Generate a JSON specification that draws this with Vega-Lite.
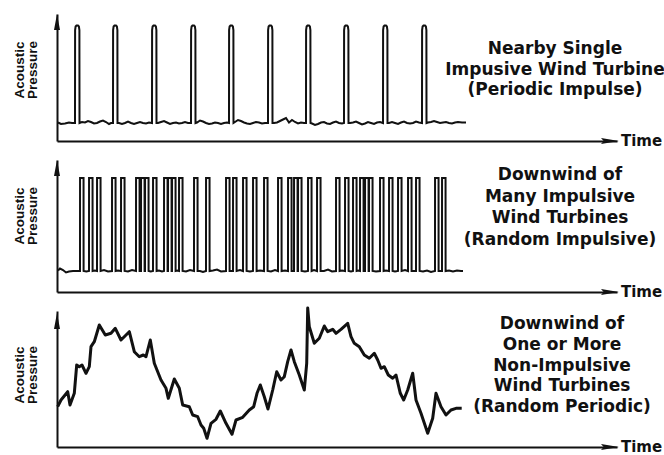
{
  "$schema": "https://vega.github.io/schema/vega-lite/v6.json",
  "background": "white",
  "padding": {"left": 12, "top": 14, "right": 0, "bottom": 0},
  "bounds": "flush",
  "spacing": 19,
  "config": {
    "view": {"stroke": null},
    "font": "DejaVu Sans",
    "axis": {"domainColor": "#111", "domainWidth": 2, "ticks": false, "labels": false, "grid": false, "title": null}
  },
  "datasets": {
    "labels": [
      {"panel": 1, "label": "Nearby Single\nImpusive Wind Turbine\n(Periodic Impulse)"},
      {"panel": 2, "label": "Downwind of\nMany Impulsive\nWind Turbines\n(Random Impulsive)"},
      {"panel": 3, "label": "Downwind of\nOne or More\nNon-Impulsive\nWind Turbines\n(Random Periodic)"}
    ],
    "p1": [
      {"t":1,"v":18.5},{"t":4,"v":17},{"t":8,"v":17.5},{"t":12,"v":18.5},{"t":15,"v":18},
      {"t":18,"v":18},{"t":18.1,"v":111},{"t":18.6,"v":114.5},{"t":19.5,"v":115.5},{"t":21,"v":115.5},{"t":21.9,"v":114.5},{"t":22.4,"v":111},{"t":22.5,"v":18},
      {"t":25,"v":19},{"t":28,"v":18.5},{"t":31,"v":20},{"t":34,"v":19},{"t":37,"v":17.5},{"t":40,"v":18},{"t":43,"v":19.5},{"t":46,"v":20.5},{"t":49,"v":19},{"t":52,"v":17},{"t":54,"v":18},
      {"t":56,"v":18},{"t":56.1,"v":111},{"t":56.6,"v":114.5},{"t":57.5,"v":115.5},{"t":59,"v":115.5},{"t":59.9,"v":114.5},{"t":60.4,"v":111},{"t":60.5,"v":18},
      {"t":62,"v":18},{"t":65,"v":17},{"t":68,"v":18},{"t":71,"v":19.5},{"t":74,"v":18},{"t":77,"v":17},{"t":80,"v":18},{"t":83,"v":19},{"t":86,"v":18},{"t":89,"v":17.5},{"t":92,"v":18.5},
      {"t":95,"v":18},{"t":95.1,"v":111},{"t":95.6,"v":114.5},{"t":96.5,"v":115.5},{"t":98,"v":115.5},{"t":98.9,"v":114.5},{"t":99.4,"v":111},{"t":99.5,"v":18},
      {"t":101,"v":18},{"t":104,"v":19},{"t":107,"v":20},{"t":110,"v":18.5},{"t":113,"v":17},{"t":116,"v":18},{"t":119,"v":18.5},{"t":122,"v":17.5},{"t":125,"v":18},{"t":128,"v":19},{"t":131,"v":18},
      {"t":134,"v":18},{"t":134.1,"v":111},{"t":134.6,"v":114.5},{"t":135.5,"v":115.5},{"t":137,"v":115.5},{"t":137.9,"v":114.5},{"t":138.4,"v":111},{"t":138.5,"v":18},
      {"t":140,"v":18.5},{"t":143,"v":20.5},{"t":146,"v":19.5},{"t":149,"v":18},{"t":152,"v":17},{"t":155,"v":17.5},{"t":158,"v":18.5},{"t":161,"v":18},{"t":164,"v":17},{"t":167,"v":18},{"t":170,"v":18.5},
      {"t":172,"v":18},{"t":172.1,"v":111},{"t":172.6,"v":114.5},{"t":173.5,"v":115.5},{"t":175,"v":115.5},{"t":175.9,"v":114.5},{"t":176.4,"v":111},{"t":176.5,"v":18},
      {"t":178,"v":19},{"t":181,"v":21},{"t":184,"v":20},{"t":187,"v":18.5},{"t":190,"v":17.5},{"t":193,"v":17},{"t":196,"v":18},{"t":199,"v":19},{"t":202,"v":18.5},{"t":205,"v":17.5},{"t":208,"v":18},
      {"t":211,"v":18},{"t":211.1,"v":111},{"t":211.6,"v":114.5},{"t":212.5,"v":115.5},{"t":214,"v":115.5},{"t":214.9,"v":114.5},{"t":215.4,"v":111},{"t":215.5,"v":18},
      {"t":217,"v":18},{"t":220,"v":18.5},{"t":223,"v":20},{"t":226,"v":21.5},{"t":229,"v":23},{"t":232,"v":18.5},{"t":235,"v":21},{"t":238,"v":19},{"t":241,"v":17.5},{"t":244,"v":18.5},{"t":247,"v":18},
      {"t":249,"v":18},{"t":249.1,"v":111},{"t":249.6,"v":114.5},{"t":250.5,"v":115.5},{"t":252,"v":115.5},{"t":252.9,"v":114.5},{"t":253.4,"v":111},{"t":253.5,"v":18},
      {"t":255,"v":17.5},{"t":258,"v":16},{"t":261,"v":17},{"t":264,"v":18.5},{"t":267,"v":19},{"t":270,"v":17.5},{"t":273,"v":17},{"t":276,"v":18.5},{"t":279,"v":19.5},{"t":282,"v":18},{"t":285,"v":17.5},
      {"t":287,"v":18},{"t":287.1,"v":111},{"t":287.6,"v":114.5},{"t":288.5,"v":115.5},{"t":290,"v":115.5},{"t":290.9,"v":114.5},{"t":291.4,"v":111},{"t":291.5,"v":18},
      {"t":293,"v":18},{"t":296,"v":18.5},{"t":299,"v":19.5},{"t":302,"v":18},{"t":305,"v":16.5},{"t":308,"v":17.5},{"t":311,"v":19},{"t":314,"v":18},{"t":317,"v":17},{"t":320,"v":18.5},{"t":323,"v":19},
      {"t":326,"v":18},{"t":326.1,"v":111},{"t":326.6,"v":114.5},{"t":327.5,"v":115.5},{"t":329,"v":115.5},{"t":329.9,"v":114.5},{"t":330.4,"v":111},{"t":330.5,"v":18},
      {"t":332,"v":18},{"t":335,"v":19},{"t":338,"v":18},{"t":341,"v":17},{"t":344,"v":18.5},{"t":347,"v":19.5},{"t":350,"v":18},{"t":353,"v":17.5},{"t":356,"v":18},{"t":359,"v":19.5},{"t":362,"v":18.5},
      {"t":365,"v":18},{"t":365.1,"v":111},{"t":365.6,"v":114.5},{"t":366.5,"v":115.5},{"t":368,"v":115.5},{"t":368.9,"v":114.5},{"t":369.4,"v":111},{"t":369.5,"v":18},
      {"t":371,"v":18.5},{"t":374,"v":19},{"t":377,"v":20},{"t":380,"v":19},{"t":383,"v":18},{"t":386,"v":18.5},{"t":389,"v":19},{"t":392,"v":18},{"t":395,"v":17.5},{"t":398,"v":18.5},{"t":401,"v":19},{"t":405,"v":18.5},{"t":409,"v":18.5}
    ],
    "p2": [
      {"t":1,"v":21.5},{"t":3,"v":23.5},{"t":6,"v":22},{"t":9,"v":19.5},{"t":12,"v":20.5},{"t":16,"v":21},{"t":20,"v":21},
      {"t":23,"v":21},{"t":23.05,"v":114},{"t":26.55,"v":114},{"t":26.6,"v":21},{"t":29.3,"v":20.5},
      {"t":32,"v":21},{"t":32.05,"v":114},{"t":35.55,"v":114},{"t":35.6,"v":21},{"t":37.8,"v":21.5},
      {"t":40,"v":21},{"t":40.05,"v":114},{"t":43.55,"v":114},{"t":43.6,"v":21},{"t":47,"v":22},{"t":51,"v":20.5},
      {"t":55,"v":21},{"t":55.05,"v":114},{"t":58.55,"v":114},{"t":58.6,"v":21},{"t":61,"v":21.5},
      {"t":64,"v":21},{"t":64.05,"v":114},{"t":67.55,"v":114},{"t":67.6,"v":21},{"t":71,"v":20.5},{"t":75,"v":22},
      {"t":79,"v":21},{"t":79.05,"v":114},{"t":82.55,"v":114},{"t":82.6,"v":21},
      {"t":84,"v":21},{"t":84.05,"v":114},{"t":87.55,"v":114},{"t":87.6,"v":21},
      {"t":88,"v":21},{"t":88.05,"v":114},{"t":91.55,"v":114},{"t":91.6,"v":21},{"t":93.8,"v":20.5},
      {"t":96,"v":21},{"t":96.05,"v":114},{"t":99.55,"v":114},{"t":99.6,"v":21},{"t":102,"v":21.5},{"t":105,"v":20.5},
      {"t":107,"v":21},{"t":107.05,"v":114},{"t":110.55,"v":114},{"t":110.6,"v":21},
      {"t":111,"v":21},{"t":111.05,"v":114},{"t":114.55,"v":114},{"t":114.6,"v":21},
      {"t":115,"v":21},{"t":115.05,"v":114},{"t":118.55,"v":114},{"t":118.6,"v":21},{"t":120.3,"v":21.5},
      {"t":122,"v":21},{"t":122.05,"v":114},{"t":125.55,"v":114},{"t":125.6,"v":21},{"t":129,"v":20.5},{"t":133,"v":22},
      {"t":137,"v":21},{"t":137.05,"v":114},{"t":140.55,"v":114},{"t":140.6,"v":21},{"t":143,"v":21},{"t":146,"v":20},
      {"t":149,"v":21},{"t":149.05,"v":114},{"t":152.55,"v":114},{"t":152.6,"v":21},{"t":156,"v":21.5},{"t":160,"v":22.5},{"t":164,"v":20.5},
      {"t":169,"v":21},{"t":169.05,"v":114},{"t":172.55,"v":114},{"t":172.6,"v":21},{"t":174.3,"v":21},
      {"t":176,"v":21},{"t":176.05,"v":114},{"t":179.55,"v":114},{"t":179.6,"v":21},{"t":183,"v":22},
      {"t":186,"v":21},{"t":186.05,"v":114},{"t":189.55,"v":114},{"t":189.6,"v":21},{"t":193,"v":20.5},
      {"t":196,"v":21},{"t":196.05,"v":114},{"t":199.55,"v":114},{"t":199.6,"v":21},{"t":203,"v":21.5},
      {"t":207,"v":21},{"t":207.05,"v":114},{"t":210.55,"v":114},{"t":210.6,"v":21},{"t":214,"v":20.5},{"t":218,"v":22},
      {"t":221,"v":21},{"t":221.05,"v":114},{"t":224.55,"v":114},{"t":224.6,"v":21},{"t":228,"v":21.5},
      {"t":231,"v":21},{"t":231.05,"v":114},{"t":234.55,"v":114},{"t":234.6,"v":21},
      {"t":237,"v":21},{"t":237.05,"v":114},{"t":240.55,"v":114},{"t":240.6,"v":21},
      {"t":241,"v":21},{"t":241.05,"v":114},{"t":244.55,"v":114},{"t":244.6,"v":21},{"t":248,"v":20.5},
      {"t":251,"v":21},{"t":251.05,"v":114},{"t":254.55,"v":114},{"t":254.6,"v":21},{"t":257,"v":22},
      {"t":260,"v":21},{"t":260.05,"v":114},{"t":263.55,"v":114},{"t":263.6,"v":21},{"t":267,"v":21},{"t":271,"v":22.5},{"t":275,"v":20.5},
      {"t":279,"v":21},{"t":279.05,"v":114},{"t":282.55,"v":114},{"t":282.6,"v":21},{"t":285,"v":21.5},
      {"t":288,"v":21},{"t":288.05,"v":114},{"t":291.55,"v":114},{"t":291.6,"v":21},{"t":294,"v":20.5},
      {"t":296,"v":21},{"t":296.05,"v":114},{"t":299.55,"v":114},{"t":299.6,"v":21},{"t":301.3,"v":21.5},
      {"t":303,"v":21},{"t":303.05,"v":114},{"t":306.55,"v":114},{"t":306.6,"v":21},
      {"t":308,"v":21},{"t":308.05,"v":114},{"t":311.55,"v":114},{"t":311.6,"v":21},
      {"t":312,"v":21},{"t":312.05,"v":114},{"t":315.55,"v":114},{"t":315.6,"v":21},{"t":319,"v":20.5},
      {"t":323,"v":21},{"t":323.05,"v":114},{"t":326.55,"v":114},{"t":326.6,"v":21},{"t":329,"v":21.5},
      {"t":332,"v":21},{"t":332.05,"v":114},{"t":335.55,"v":114},{"t":335.6,"v":21},{"t":338,"v":20.5},
      {"t":341,"v":21},{"t":341.05,"v":114},{"t":344.55,"v":114},{"t":344.6,"v":21},{"t":348,"v":22},
      {"t":351,"v":21},{"t":351.05,"v":114},{"t":354.55,"v":114},{"t":354.6,"v":21},{"t":357,"v":21},
      {"t":359,"v":21},{"t":359.05,"v":114},{"t":362.55,"v":114},{"t":362.6,"v":21},{"t":366,"v":20.5},{"t":370,"v":21.5},{"t":374,"v":20},
      {"t":378,"v":21},{"t":378.05,"v":114},{"t":381.55,"v":114},{"t":381.6,"v":21},{"t":383.3,"v":21},
      {"t":385,"v":21},{"t":385.05,"v":114},{"t":388.55,"v":114},{"t":388.6,"v":21},
      {"t":392,"v":21.5},{"t":396,"v":20.5},{"t":400,"v":21.5},{"t":404,"v":21},{"t":406,"v":21}
    ],
    "p3": [
      {"t":0.7,"v":40.3},{"t":4,"v":47},{"t":10.7,"v":55.3},{"t":13,"v":42},{"t":17.3,"v":53.7},{"t":19.7,"v":82},{"t":22.3,"v":80.3},{"t":25,"v":82},{"t":29,"v":73.7},{"t":32.3,"v":80.3},
      {"t":34,"v":100.3},{"t":37.3,"v":105.3},{"t":42.3,"v":122},{"t":48.3,"v":112},{"t":54,"v":113.7},{"t":58.3,"v":118.7},{"t":64,"v":107},{"t":72.3,"v":115.3},{"t":77.3,"v":95.3},{"t":82.3,"v":90.3},
      {"t":86.3,"v":92},{"t":89,"v":90.3},{"t":93.3,"v":107},{"t":97.3,"v":83.7},{"t":104,"v":67},{"t":109,"v":58.7},{"t":111.3,"v":48.7},{"t":117.3,"v":68},{"t":122.3,"v":58.7},{"t":125.7,"v":42},
      {"t":132.3,"v":40.3},{"t":135.7,"v":32},{"t":140.7,"v":30.3},{"t":144,"v":22},{"t":146.7,"v":18.7},{"t":150,"v":8.7},{"t":154,"v":23.7},{"t":159,"v":27.7},{"t":163.3,"v":36},{"t":169,"v":23.7},
      {"t":175,"v":12.7},{"t":179,"v":27},{"t":185.7,"v":29.7},{"t":192.3,"v":37},{"t":196.7,"v":40.3},{"t":200,"v":53.7},{"t":203.3,"v":62},{"t":207.3,"v":50.3},{"t":211,"v":38},{"t":215.7,"v":57},
      {"t":219.7,"v":75.3},{"t":224,"v":67},{"t":227.3,"v":70.3},{"t":230.7,"v":85.3},{"t":234,"v":97},{"t":237.3,"v":85.3},{"t":242.3,"v":72},{"t":247.3,"v":57},{"t":249.7,"v":83.7},{"t":250.7,"v":139},
      {"t":252.3,"v":120.3},{"t":257.3,"v":103.7},{"t":262.3,"v":108.7},{"t":267.3,"v":121},{"t":270.7,"v":115.3},{"t":275.7,"v":117.7},{"t":279,"v":113.7},{"t":284,"v":117.7},{"t":290.7,"v":123.7},{"t":294,"v":110.3},
      {"t":297.3,"v":103.7},{"t":302.3,"v":100.3},{"t":307.3,"v":92},{"t":312.3,"v":88.7},{"t":317.3,"v":93.7},{"t":320.7,"v":87},{"t":324,"v":78.7},{"t":327.3,"v":80.3},{"t":331.3,"v":72},{"t":335.7,"v":68.7},
      {"t":339,"v":72},{"t":343.3,"v":53.7},{"t":346.7,"v":47},{"t":350.7,"v":57},{"t":355.7,"v":73.7},{"t":359,"v":47},{"t":364,"v":33.7},{"t":370.7,"v":13.7},{"t":375.7,"v":28.7},{"t":379,"v":53.7},
      {"t":384,"v":40.3},{"t":389,"v":32},{"t":394,"v":37},{"t":399,"v":38.7},{"t":404.7,"v":38.7}
    ]
  },
  "vconcat": [
    {
      "width": 560, "height": 127,
      "layer": [
        {"data": {"name": "p1"}, "mark": {"type": "line", "color": "#111", "strokeWidth": 2},
         "encoding": {
           "x": {"field": "t", "type": "quantitative", "scale": {"domain": [0, 560], "nice": false, "zero": false}},
           "y": {"field": "v", "type": "quantitative", "scale": {"domain": [0, 127], "nice": false}}}},
        {"data": {"name": "labels"}, "transform": [{"filter": "datum.panel == 1"}],
         "mark": {"type": "point", "shape": "M0,0L-0.375,2L0.375,2Z", "filled": true, "color": "#111", "opacity": 1, "size": 256},
         "encoding": {"x": {"datum": 0, "type": "quantitative", "scale": {"domain": [0, 560], "nice": false, "zero": false}},
                      "y": {"datum": 127, "type": "quantitative", "scale": {"domain": [0, 127], "nice": false}}}},
        {"data": {"name": "labels"}, "transform": [{"filter": "datum.panel == 1"}],
         "mark": {"type": "point", "shape": "M0,0L-2,-0.33L-1.7,0L-2,0.33Z", "filled": true, "color": "#111", "opacity": 1, "size": 324},
         "encoding": {"x": {"datum": 562, "type": "quantitative", "scale": {"domain": [0, 560], "nice": false, "zero": false}},
                      "y": {"datum": 0, "type": "quantitative", "scale": {"domain": [0, 127], "nice": false}}}},
        {"data": {"name": "labels"}, "transform": [{"filter": "datum.panel == 1"}],
         "mark": {"type": "text", "text": "Time", "align": "left", "baseline": "middle", "fontSize": 15, "fontWeight": "bold", "color": "#111"},
         "encoding": {"x": {"datum": 564, "type": "quantitative", "scale": {"domain": [0, 560], "nice": false, "zero": false}},
                      "y": {"datum": 0, "type": "quantitative", "scale": {"domain": [0, 127], "nice": false}}}},
        {"data": {"name": "labels"}, "transform": [{"filter": "datum.panel == 1"}],
         "mark": {"type": "text", "text": "Acoustic\nPressure", "lineBreak": "\n", "lineHeight": 13, "angle": 270, "align": "center", "baseline": "middle", "font": "Liberation Sans", "fontSize": 13.5, "fontWeight": "bold", "color": "#111"},
         "encoding": {"x": {"datum": -37.5, "type": "quantitative", "scale": {"domain": [0, 560], "nice": false, "zero": false}},
                      "y": {"datum": 71, "type": "quantitative", "scale": {"domain": [0, 127], "nice": false}}}},
        {"data": {"name": "labels"}, "transform": [{"filter": "datum.panel == 1"}],
         "mark": {"type": "text", "lineBreak": "\n", "lineHeight": 20.5, "align": "center", "baseline": "middle", "fontSize": 17, "fontWeight": "bold", "color": "#111"},
         "encoding": {"text": {"field": "label"},
                      "x": {"datum": 498, "type": "quantitative", "scale": {"domain": [0, 560], "nice": false, "zero": false}},
                      "y": {"datum": 92, "type": "quantitative", "scale": {"domain": [0, 127], "nice": false}}}}
      ]
    },
    {
      "width": 560, "height": 132,
      "layer": [
        {"data": {"name": "p2"}, "mark": {"type": "line", "color": "#111", "strokeWidth": 2},
         "encoding": {
           "x": {"field": "t", "type": "quantitative", "scale": {"domain": [0, 560], "nice": false, "zero": false}},
           "y": {"field": "v", "type": "quantitative", "scale": {"domain": [0, 132], "nice": false}}}},
        {"data": {"name": "labels"}, "transform": [{"filter": "datum.panel == 2"}],
         "mark": {"type": "point", "shape": "M0,0L-0.375,2L0.375,2Z", "filled": true, "color": "#111", "opacity": 1, "size": 256},
         "encoding": {"x": {"datum": 0, "type": "quantitative", "scale": {"domain": [0, 560], "nice": false, "zero": false}},
                      "y": {"datum": 132, "type": "quantitative", "scale": {"domain": [0, 132], "nice": false}}}},
        {"data": {"name": "labels"}, "transform": [{"filter": "datum.panel == 2"}],
         "mark": {"type": "point", "shape": "M0,0L-2,-0.33L-1.7,0L-2,0.33Z", "filled": true, "color": "#111", "opacity": 1, "size": 324},
         "encoding": {"x": {"datum": 562, "type": "quantitative", "scale": {"domain": [0, 560], "nice": false, "zero": false}},
                      "y": {"datum": 0, "type": "quantitative", "scale": {"domain": [0, 132], "nice": false}}}},
        {"data": {"name": "labels"}, "transform": [{"filter": "datum.panel == 2"}],
         "mark": {"type": "text", "text": "Time", "align": "left", "baseline": "middle", "fontSize": 15, "fontWeight": "bold", "color": "#111"},
         "encoding": {"x": {"datum": 564, "type": "quantitative", "scale": {"domain": [0, 560], "nice": false, "zero": false}},
                      "y": {"datum": 0, "type": "quantitative", "scale": {"domain": [0, 132], "nice": false}}}},
        {"data": {"name": "labels"}, "transform": [{"filter": "datum.panel == 2"}],
         "mark": {"type": "text", "text": "Acoustic\nPressure", "lineBreak": "\n", "lineHeight": 13, "angle": 270, "align": "center", "baseline": "middle", "font": "Liberation Sans", "fontSize": 13.5, "fontWeight": "bold", "color": "#111"},
         "encoding": {"x": {"datum": -37.5, "type": "quantitative", "scale": {"domain": [0, 560], "nice": false, "zero": false}},
                      "y": {"datum": 76, "type": "quantitative", "scale": {"domain": [0, 132], "nice": false}}}},
        {"data": {"name": "labels"}, "transform": [{"filter": "datum.panel == 2"}],
         "mark": {"type": "text", "lineBreak": "\n", "lineHeight": 21.7, "align": "center", "baseline": "middle", "fontSize": 17, "fontWeight": "bold", "color": "#111"},
         "encoding": {"text": {"field": "label"},
                      "x": {"datum": 503, "type": "quantitative", "scale": {"domain": [0, 560], "nice": false, "zero": false}},
                      "y": {"datum": 117, "type": "quantitative", "scale": {"domain": [0, 132], "nice": false}}}}
      ]
    },
    {
      "width": 560, "height": 136,
      "layer": [
        {"data": {"name": "p3"}, "mark": {"type": "line", "color": "#111", "strokeWidth": 3, "strokeJoin": "round"},
         "encoding": {
           "x": {"field": "t", "type": "quantitative", "scale": {"domain": [0, 560], "nice": false, "zero": false}},
           "y": {"field": "v", "type": "quantitative", "scale": {"domain": [0, 136], "nice": false}}}},
        {"data": {"name": "labels"}, "transform": [{"filter": "datum.panel == 3"}],
         "mark": {"type": "point", "shape": "M0,0L-0.375,2L0.375,2Z", "filled": true, "color": "#111", "opacity": 1, "size": 256},
         "encoding": {"x": {"datum": 0, "type": "quantitative", "scale": {"domain": [0, 560], "nice": false, "zero": false}},
                      "y": {"datum": 134, "type": "quantitative", "scale": {"domain": [0, 136], "nice": false}}}},
        {"data": {"name": "labels"}, "transform": [{"filter": "datum.panel == 3"}],
         "mark": {"type": "point", "shape": "M0,0L-2,-0.33L-1.7,0L-2,0.33Z", "filled": true, "color": "#111", "opacity": 1, "size": 324},
         "encoding": {"x": {"datum": 562, "type": "quantitative", "scale": {"domain": [0, 560], "nice": false, "zero": false}},
                      "y": {"datum": 0, "type": "quantitative", "scale": {"domain": [0, 136], "nice": false}}}},
        {"data": {"name": "labels"}, "transform": [{"filter": "datum.panel == 3"}],
         "mark": {"type": "text", "text": "Time", "align": "left", "baseline": "middle", "fontSize": 15, "fontWeight": "bold", "color": "#111"},
         "encoding": {"x": {"datum": 564, "type": "quantitative", "scale": {"domain": [0, 560], "nice": false, "zero": false}},
                      "y": {"datum": 0, "type": "quantitative", "scale": {"domain": [0, 136], "nice": false}}}},
        {"data": {"name": "labels"}, "transform": [{"filter": "datum.panel == 3"}],
         "mark": {"type": "text", "text": "Acoustic\nPressure", "lineBreak": "\n", "lineHeight": 13, "angle": 270, "align": "center", "baseline": "middle", "font": "Liberation Sans", "fontSize": 13.5, "fontWeight": "bold", "color": "#111"},
         "encoding": {"x": {"datum": -37.5, "type": "quantitative", "scale": {"domain": [0, 560], "nice": false, "zero": false}},
                      "y": {"datum": 72, "type": "quantitative", "scale": {"domain": [0, 136], "nice": false}}}},
        {"data": {"name": "labels"}, "transform": [{"filter": "datum.panel == 3"}],
         "mark": {"type": "text", "lineBreak": "\n", "lineHeight": 20.75, "align": "center", "baseline": "middle", "fontSize": 17, "fontWeight": "bold", "color": "#111"},
         "encoding": {"text": {"field": "label"},
                      "x": {"datum": 505, "type": "quantitative", "scale": {"domain": [0, 560], "nice": false, "zero": false}},
                      "y": {"datum": 123, "type": "quantitative", "scale": {"domain": [0, 136], "nice": false}}}}
      ]
    }
  ]
}
